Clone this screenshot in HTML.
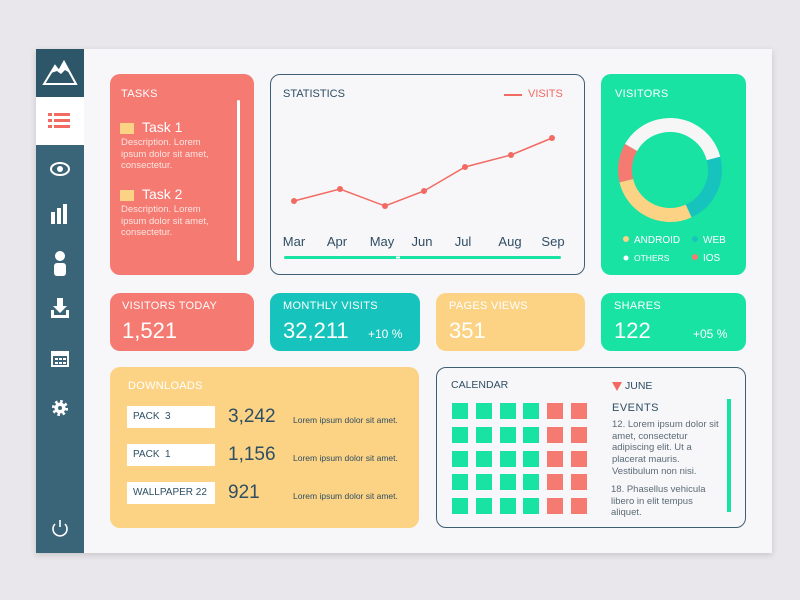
<!DOCTYPE html><html><head><style>
body{margin:0;width:800px;height:600px;background:#e9e7eb;position:relative;overflow:hidden;font-family:"Liberation Sans",sans-serif}
div{position:absolute;box-sizing:border-box}
.c{border-radius:10px}
.t{font-size:11px;color:#fff;letter-spacing:.3px}
.big{font-size:22px;color:#fff}
.wl{color:#fff}
</style></head><body>
<div style="left:36px;top:49px;width:736px;height:504px;background:#f7f6f9;box-shadow:0 2px 6px rgba(0,0,0,.15)"></div>
<div style="left:36px;top:49px;width:48px;height:504px;background:#3a6478"></div>
<div style="left:36px;top:49px;width:48px;height:48px;background:#2e5669"></div>
<svg style="position:absolute;left:42px;top:58px" width="36" height="30"><path d="M2 26 L13 8 L17 13 L22 4 L34 26 Z" fill="none" stroke="#fff" stroke-width="2"/><path d="M9 15 L13 8 L17 13 L22 4 L28 15 L23 12 L19 16 L15 13 Z" fill="#fff"/></svg>
<div style="left:36px;top:97px;width:48px;height:48px;background:#fff"></div>
<svg style="position:absolute;left:48px;top:112px" width="24" height="18"><g fill="#f26b63"><rect x="0" y="1" width="4" height="3"/><rect x="6" y="1" width="16" height="3"/><rect x="0" y="7" width="4" height="3"/><rect x="6" y="7" width="16" height="3"/><rect x="0" y="13" width="4" height="3"/><rect x="6" y="13" width="16" height="3"/></g></svg>
<svg style="position:absolute;left:36px;top:150px" width="48" height="400" fill="#fff">
<ellipse cx="24" cy="19" rx="9" ry="6" fill="none" stroke="#fff" stroke-width="2"/><circle cx="24" cy="19" r="3"/>
<rect x="15" y="62" width="4" height="12"/><rect x="21" y="58" width="4" height="16"/><rect x="27" y="54" width="4" height="20"/>
<circle cx="24" cy="106" r="5"/><rect x="18" y="113" width="12" height="13" rx="3"/>
<path d="M21 148h6v8h4l-7 7-7-7h4z"/><rect x="15" y="165" width="18" height="3"/><rect x="15" y="160" width="3" height="7"/><rect x="30" y="160" width="3" height="7"/>
<rect x="16" y="202" width="16" height="14" fill="none" stroke="#fff" stroke-width="2"/><rect x="16" y="202" width="16" height="4"/><g><rect x="19" y="208" width="3" height="2"/><rect x="23" y="208" width="3" height="2"/><rect x="27" y="208" width="3" height="2"/><rect x="19" y="212" width="3" height="2"/><rect x="23" y="212" width="3" height="2"/><rect x="27" y="212" width="3" height="2"/></g>
<circle cx="24" cy="258" r="6.5" fill="none" stroke="#fff" stroke-width="3" stroke-dasharray="2.5 2.6"/><circle cx="24" cy="258" r="5.5"/><circle cx="24" cy="258" r="2" fill="#3a6478"/>
<path d="M19 374 a7 7 0 1 0 10 0" fill="none" stroke="#fff" stroke-width="1.6"/><rect x="23.2" y="370" width="1.6" height="7"/>
</svg>

<!-- Tasks -->
<div class="c" style="left:110px;top:74px;width:144px;height:201px;background:#f47a72"></div>
<div class="t" style="left:121px;top:88px">TASKS</div>
<div style="left:237px;top:100px;width:3px;height:161px;background:#fff;border-radius:2px"></div>
<div style="left:120px;top:123px;width:14px;height:11px;background:#fcd385"></div>
<div style="left:142px;top:119px;font-size:14px;color:#fff">Task 1</div>
<div style="left:121px;top:137px;font-size:9.5px;line-height:11.7px;color:#fde4e0;width:100px">Description. Lorem ipsum dolor sit amet, consectetur.</div>
<div style="left:120px;top:190px;width:14px;height:11px;background:#fcd385"></div>
<div style="left:142px;top:186px;font-size:14px;color:#fff">Task 2</div>
<div style="left:121px;top:204px;font-size:9.5px;line-height:11.7px;color:#fde4e0;width:100px">Description. Lorem ipsum dolor sit amet, consectetur.</div>

<!-- Stats -->
<div class="c" style="left:270px;top:74px;width:315px;height:201px;border:1.5px solid #3e5f73"></div>
<div style="left:283px;top:88px;font-size:11px;color:#2e4e63">STATISTICS</div>
<div style="left:504px;top:94px;width:18px;height:2px;background:#f26b63"></div>
<div style="left:528px;top:88px;font-size:11px;color:#f26b63">VISITS</div>
<svg style="position:absolute;left:270px;top:74px" width="315" height="201"><polyline points="24,127 70,115 115,132 154,117 195,93 241,81 282,64" fill="none" stroke="#f26b63" stroke-width="1.5"/><g fill="#f26b63"><circle cx="24" cy="127" r="3"/><circle cx="70" cy="115" r="3"/><circle cx="115" cy="132" r="3"/><circle cx="154" cy="117" r="3"/><circle cx="195" cy="93" r="3"/><circle cx="241" cy="81" r="3"/><circle cx="282" cy="64" r="3"/></g>
<rect x="14" y="182" width="277" height="3" rx="1.5" fill="#18e3a3"/><rect x="126" y="182.5" width="4" height="2" fill="#fff"/>
<g font-size="13" fill="#2e4e63" text-anchor="middle" font-family="Liberation Sans"><text x="24" y="172">Mar</text><text x="67" y="172">Apr</text><text x="112" y="172">May</text><text x="152" y="172">Jun</text><text x="193" y="172">Jul</text><text x="240" y="172">Aug</text><text x="283" y="172">Sep</text></g></svg>

<!-- Visitors -->
<div class="c" style="left:601px;top:74px;width:145px;height:201px;background:#18e3a3"></div>
<div class="t" style="left:615px;top:88px">VISITORS</div>
<svg style="position:absolute;left:601px;top:74px" width="145" height="201"><g transform="rotate(-150 69 96)" fill="none" stroke-width="14">
<circle cx="69" cy="96" r="45" stroke="#f6f6f6" stroke-dasharray="106 300"/>
<circle cx="69" cy="96" r="45" stroke="#17c4bd" stroke-dasharray="0 106 63 300"/>
<circle cx="69" cy="96" r="45" stroke="#fcd385" stroke-dasharray="0 169 79 300"/>
<circle cx="69" cy="96" r="45" stroke="#f47a72" stroke-dasharray="0 248 35 300"/></g>
<g font-size="10" fill="#fff" font-family="Liberation Sans"><circle cx="25" cy="165" r="3" fill="#fcd385"/><text x="33" y="169">ANDROID</text><circle cx="94" cy="165" r="3" fill="#17c4bd"/><text x="102" y="169">WEB</text><circle cx="25" cy="184" r="2.5" fill="#fff"/><text x="33" y="187" font-size="8.5">OTHERS</text><circle cx="94" cy="183" r="3" fill="#f47a72"/><text x="102" y="187">IOS</text></g></svg>

<!-- small cards -->
<div class="c" style="left:110px;top:293px;width:144px;height:58px;background:#f47a72"></div>
<div class="t" style="left:122px;top:300px">VISITORS TODAY</div><div class="big" style="left:122px;top:318px">1,521</div>
<div class="c" style="left:270px;top:293px;width:150px;height:58px;background:#17c4bd"></div>
<div class="t" style="left:283px;top:300px">MONTHLY VISITS</div><div class="big" style="left:283px;top:318px">32,211</div><div class="wl" style="left:368px;top:327px;font-size:12px">+10 %</div>
<div class="c" style="left:436px;top:293px;width:149px;height:58px;background:#fcd385"></div>
<div class="t" style="left:449px;top:300px">PAGES VIEWS</div><div class="big" style="left:449px;top:318px">351</div>
<div class="c" style="left:601px;top:293px;width:145px;height:58px;background:#18e3a3"></div>
<div class="t" style="left:614px;top:300px">SHARES</div><div class="big" style="left:614px;top:318px">122</div><div class="wl" style="left:693px;top:327px;font-size:12px">+05 %</div>

<!-- Downloads -->
<div class="c" style="left:110px;top:367px;width:309px;height:161px;background:#fcd385"></div>
<div class="t" style="left:128px;top:380px">DOWNLOADS</div>
<div style="left:127px;top:406px;width:88px;height:22px;background:#fff;font-size:10px;color:#2e4e63;padding:5px 6px">PACK &nbsp;3</div>
<div style="left:127px;top:444px;width:88px;height:22px;background:#fff;font-size:10px;color:#2e4e63;padding:5px 6px">PACK &nbsp;1</div>
<div style="left:127px;top:482px;width:88px;height:22px;background:#fff;font-size:10px;color:#2e4e63;padding:5px 6px">WALLPAPER 22</div>
<div style="left:228px;top:406px;font-size:19px;color:#2e4e63">3,242</div>
<div style="left:228px;top:444px;font-size:19px;color:#2e4e63">1,156</div>
<div style="left:228px;top:482px;font-size:19px;color:#2e4e63">921</div>
<div style="left:293px;top:415px;font-size:8.5px;color:#2e4e63">Lorem ipsum dolor sit amet.</div>
<div style="left:293px;top:453px;font-size:8.5px;color:#2e4e63">Lorem ipsum dolor sit amet.</div>
<div style="left:293px;top:491px;font-size:8.5px;color:#2e4e63">Lorem ipsum dolor sit amet.</div>

<!-- Calendar -->
<div class="c" style="left:436px;top:367px;width:310px;height:161px;border:1.5px solid #3e5f73"></div>
<div style="left:451px;top:379px;font-size:10.5px;color:#2e4e63">CALENDAR</div>
<svg style="position:absolute;left:452px;top:403px" width="136" height="112"><g fill="#18e3a3">
<rect x="0" y="0" width="16" height="16"/><rect x="24" y="0" width="16" height="16"/><rect x="48" y="0" width="16" height="16"/><rect x="71" y="0" width="16" height="16"/>
<rect x="0" y="24" width="16" height="16"/><rect x="24" y="24" width="16" height="16"/><rect x="48" y="24" width="16" height="16"/><rect x="71" y="24" width="16" height="16"/>
<rect x="0" y="48" width="16" height="16"/><rect x="24" y="48" width="16" height="16"/><rect x="48" y="48" width="16" height="16"/><rect x="71" y="48" width="16" height="16"/>
<rect x="0" y="71" width="16" height="16"/><rect x="24" y="71" width="16" height="16"/><rect x="48" y="71" width="16" height="16"/><rect x="71" y="71" width="16" height="16"/>
<rect x="0" y="95" width="16" height="16"/><rect x="24" y="95" width="16" height="16"/><rect x="48" y="95" width="16" height="16"/><rect x="71" y="95" width="16" height="16"/></g>
<g fill="#f47a72"><rect x="95" y="0" width="16" height="16"/><rect x="119" y="0" width="16" height="16"/><rect x="95" y="24" width="16" height="16"/><rect x="119" y="24" width="16" height="16"/><rect x="95" y="48" width="16" height="16"/><rect x="119" y="48" width="16" height="16"/><rect x="95" y="71" width="16" height="16"/><rect x="119" y="71" width="16" height="16"/><rect x="95" y="95" width="16" height="16"/><rect x="119" y="95" width="16" height="16"/></g></svg>
<svg style="position:absolute;left:612px;top:382px" width="10" height="9"><path d="M0 0h10l-5 9z" fill="#f26b63"/></svg>
<div style="left:625px;top:380px;font-size:10.5px;color:#2e4e63">JUNE</div>
<div style="left:612px;top:402px;font-size:11px;color:#2e4e63;letter-spacing:.5px">EVENTS</div>
<div style="left:727px;top:399px;width:4px;height:113px;background:#18e3a3"></div>
<div style="left:612px;top:419px;font-size:9.5px;line-height:11.7px;color:#5b6b76;width:110px">12. Lorem ipsum dolor sit amet, consectetur adipiscing elit. Ut a placerat mauris. Vestibulum non nisi.</div>
<div style="left:611px;top:484px;font-size:9.5px;line-height:11.7px;color:#5b6b76;width:110px">18. Phasellus vehicula libero in elit tempus aliquet.</div>
</body></html>
